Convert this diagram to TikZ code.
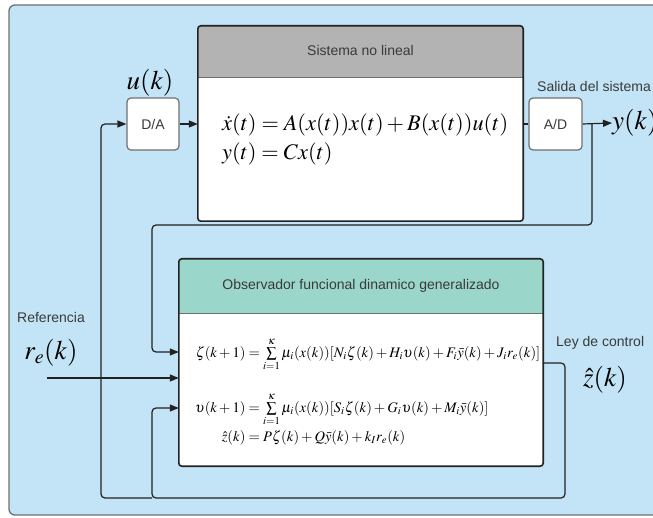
\documentclass[tikz,border=0pt]{standalone}
\usepackage{amsmath}
\usepackage{mathptmx}
\usepackage[no-math]{fontspec}
\setmainfont{Liberation Sans}
\usepackage{graphicx}
\usetikzlibrary{arrows.meta,calc}
\definecolor{bgblue}{HTML}{C2E4F6}
\definecolor{hdrgray}{HTML}{B3B3B3}
\definecolor{hdrteal}{HTML}{9BD6CA}
\definecolor{lbl}{HTML}{3A3A3A}
\definecolor{edge}{HTML}{222222}
\definecolor{frame}{HTML}{707070}
\tikzset{
 lab/.style={font=\fontsize{14}{16}\selectfont, text=lbl, inner sep=0pt},
 bigmath/.style={font=\fontsize{27}{30}\selectfont, inner sep=0pt},
 conv/.style={draw=frame, fill=white, rounded corners=4pt, line width=1.2pt, minimum width=52pt, minimum height=52pt, inner sep=0pt, font=\fontsize{14}{16}\selectfont, text=lbl},
 blockbody/.style={fill=white, inner sep=0pt},
 blockframe/.style={draw=edge, line width=1.6pt, rounded corners=3pt},
 wire/.style={draw=edge, line width=1.2pt, rounded corners=4pt},
 arr/.style={wire, -{Triangle[length=9pt,width=7pt]}},
}
\newcommand{\tsum}{\textstyle\sum\limits}
\begin{document}
\begin{tikzpicture}[x=1pt,y=-1pt]
\useasboundingbox (0,0) rectangle (653,518);
% background
\draw[draw=frame, fill=bgblue, line width=1.3pt, rounded corners=6pt] (9,5) rectangle (680,515);

% system block
\node[blockbody, minimum width=325pt, minimum height=195pt] (sys) at (360.5,123.5) {};
\fill[hdrgray] (sys.west |- 0,78) {[rounded corners=3pt] -- (sys.north west) -- (sys.north east)} -- (sys.east |- 0,78) -- cycle;
\draw[frame, line width=1pt] (sys.west |- 0,78) -- (sys.east |- 0,78);
\draw[blockframe] (sys.north west) rectangle (sys.south east);
\node[lab] (systitle) at (360.5,51) {Sistema no lineal};
\node[anchor=west, align=left, inner sep=0pt, font=\fontsize{22.3}{29}\selectfont] (syseq) at (222,139)
 {$\dot{x}(t) = A(x(t))x(t) + B(x(t))u(t)$\\ $y(t) = Cx(t)$};

% observer block
\node[blockbody, minimum width=364pt, minimum height=207pt] (obs) at (361,362.5) {};
\fill[hdrteal] (obs.west |- 0,314) {[rounded corners=3pt] -- (obs.north west) -- (obs.north east)} -- (obs.east |- 0,314) -- cycle;
\draw[frame, line width=1pt] (obs.west |- 0,314) -- (obs.east |- 0,314);
\draw[blockframe] (obs.north west) rectangle (obs.south east);
\node[lab] (obstitle) at (361,286) {Observador funcional dinamico generalizado};
\node[anchor=west, inner sep=0pt] (obseq) at (195,392) {\resizebox{345pt}{!}{$\begin{aligned}
\zeta(k+1) &= \tsum_{i=1}^{\kappa} \mu_i(x(k))[N_i\zeta(k)+H_i\upsilon(k)+F_i\bar{y}(k)+J_i r_e(k)]\\[11pt]
\upsilon(k+1) &= \tsum_{i=1}^{\kappa} \mu_i(x(k))[S_i\zeta(k)+G_i\upsilon(k)+M_i\bar{y}(k)]\\[-2pt]
\hat{z}(k) &= P\zeta(k)+Q\bar{y}(k)+k_I r_e(k)
\end{aligned}$}};

% converters
\node[conv] (da) at (153,124) {D/A};
\node[conv, minimum width=53pt] (ad) at (555.5,124) {A/D};

% labels
\node[bigmath] (uk) at (150,83) {$u(k)$};
\node[bigmath, anchor=west] (yk) at (612,123) {$y(k)$};
\node[bigmath] (re) at (51,353) {$r_e(k)$};
\node[bigmath] (zk) at (605,380) {$\hat{z}(k)$};
\node[lab, anchor=west] (salida) at (537,86) {Salida del sistema};
\node[lab, anchor=west] (refer) at (17,317) {Referencia};
\node[lab, anchor=west] (ley) at (556,343) {Ley de control};

% connectors
\coordinate (tap) at (592,124);
\coordinate (c2) at (152,225);
\coordinate (rs) at (47,378);
\coordinate (rloop) at (565,498);
\coordinate (j) at (152,498);
\coordinate (lloop) at (101,498);

\draw[arr] (da.east) -- (da.east -| sys.west);
\draw[wire] (ad.west -| sys.east) -- (ad.west);
\draw[arr] (ad.east) -- (yk.west);
\draw[arr] (tap) |- (c2) |- (obs.west |- 0,352);
\draw[arr] (rs) -- (rs -| obs.west);
\draw[arr] (obs.east |- 0,363) -| (rloop) -| ($(j)+(0,-90)$) -- (obs.west |- 0,408);
\draw[arr] (j) -- (lloop) |- (da.west);
\end{tikzpicture}
\end{document}
